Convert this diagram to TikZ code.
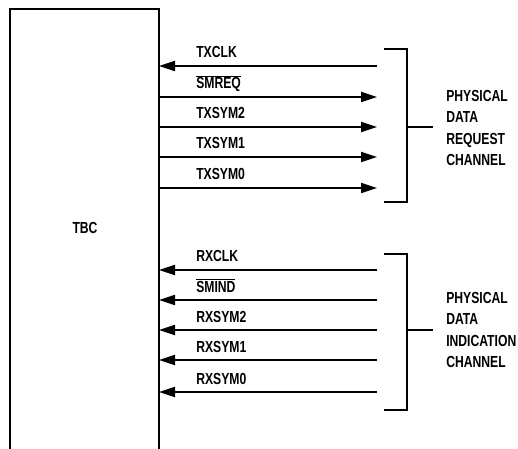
\documentclass[tikz,border=0pt]{standalone}
\usepackage{fontspec}
\setmainfont{Liberation Sans}[FakeStretch=0.76,UprightFont=* Bold]
\usetikzlibrary{arrows.meta}
\begin{document}
\begin{tikzpicture}[x=0.75pt,y=-0.75pt,
  sig/.style={line width=1.3pt},
  tipped/.style={sig,-{Triangle[length=12pt,width=7.5pt]}},
  lab/.style={anchor=base west,inner sep=0pt,font=\fontsize{12}{13}\selectfont},
  chan/.style={anchor=west,inner sep=0pt,align=left,font=\fontsize{12}{16}\selectfont},
  frame/.style={line width=1.3pt}]
\useasboundingbox (0,0) rectangle (518,449);
% TBC block (open at the bottom)
\coordinate (bl) at (10,449);
\coordinate (tl) at (10,9);
\coordinate (tr) at (159,9);
\coordinate (br) at (159,449);
\draw[frame] (bl) -- (tl) -- (tr) -- (br);
\node[inner sep=0pt,font=\fontsize{12}{13}\selectfont] (tbc) at (85,228) {TBC};
% signal end points
\foreach \n/\y in {txclk/66,smreq/97,txsymb/127,txsyma/157,txsymo/188,
                   rxclk/270,smind/300,rxsymb/330,rxsyma/360,rxsymo/392}{
  \coordinate (\n-l) at (159,\y);
  \coordinate (\n-r) at (377,\y);
}
% request channel
\draw[tipped] (txclk-r) -- (txclk-l);
\draw[tipped] (smreq-l) -- (smreq-r);
\draw[tipped] (txsymb-l) -- (txsymb-r);
\draw[tipped] (txsyma-l) -- (txsyma-r);
\draw[tipped] (txsymo-l) -- (txsymo-r);
\node[lab] (l1) at (196,58) {TXCLK};
\node[lab] (l2) at (196,89) {$\overline{\hbox{SMREQ}}$};
\node[lab] (l3) at (196,119) {TXSYM2};
\node[lab] (l4) at (196,149) {TXSYM1};
\node[lab] (l5) at (196,180) {TXSYM0};
% indication channel
\draw[tipped] (rxclk-r) -- (rxclk-l);
\draw[tipped] (smind-r) -- (smind-l);
\draw[tipped] (rxsymb-r) -- (rxsymb-l);
\draw[tipped] (rxsyma-r) -- (rxsyma-l);
\draw[tipped] (rxsymo-r) -- (rxsymo-l);
\node[lab] (m1) at (196,262) {RXCLK};
\node[lab] (m2) at (196,292) {$\overline{\hbox{SMIND}}$};
\node[lab] (m3) at (196,322) {RXSYM2};
\node[lab] (m4) at (196,352) {RXSYM1};
\node[lab] (m5) at (196,384) {RXSYM0};
% brackets
\coordinate (ta) at (384,49);  \coordinate (tb) at (407,49);
\coordinate (tc) at (407,202); \coordinate (td) at (384,202);
\coordinate (tm) at (407,127); \coordinate (te) at (433,127);
\draw[frame] (ta) -- (tb) -- (tc) -- (td);
\draw[frame] (tm) -- (te);
\coordinate (ra) at (384,254); \coordinate (rb) at (407,254);
\coordinate (rc) at (407,410); \coordinate (rd) at (384,410);
\coordinate (rm) at (407,330); \coordinate (re) at (433,330);
\draw[frame] (ra) -- (rb) -- (rc) -- (rd);
\draw[frame] (rm) -- (re);
\node[chan] (req) at (446,128) {PHYSICAL\\DATA\\REQUEST\\CHANNEL};
\node[chan] (ind) at (446,330) {PHYSICAL\\DATA\\INDICATION\\CHANNEL};
\end{tikzpicture}
\end{document}
